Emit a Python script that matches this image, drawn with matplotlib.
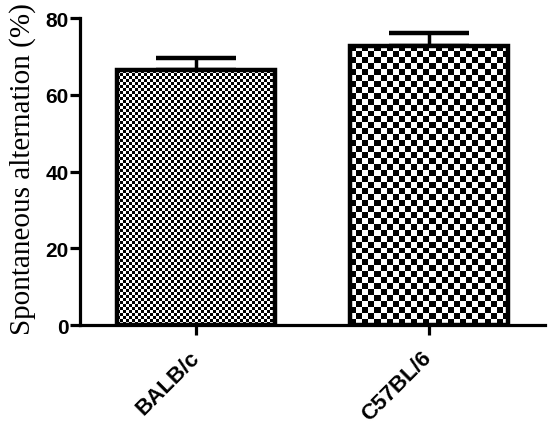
import numpy as np
import matplotlib.pyplot as plt

strains = ["BALB/c", "C57BL/6"]
alternation = [66.4, 72.8]
sem = [3.3, 3.2]
checker_cells = [(53, 85), (26, 47)]  # checks across, checks up

fig = plt.figure(figsize=(5.5, 4.27), dpi=100)
ax = fig.add_axes([0.145, 0.2365, 0.846, 0.719])

x = np.arange(len(strains))
bars = ax.bar(x, alternation, width=0.68, facecolor="none", edgecolor="black",
              linewidth=3.2, zorder=3)

# one-sided error bars (upwards)
ax.errorbar(x, alternation, yerr=[np.zeros(len(sem)), sem], fmt="none",
            ecolor="black", elinewidth=2.5, capsize=29, capthick=3.2, zorder=2)

# checkerboard fills clipped to the bars
for bar, (nx, ny) in zip(bars, checker_cells):
    board = (np.add.outer(np.arange(ny), np.arange(nx)) % 2).astype(float)
    x0, y0 = bar.get_x(), bar.get_y()
    im = ax.imshow(board, cmap="gray", interpolation="nearest", aspect="auto",
                   extent=[x0, x0 + bar.get_width(), y0, y0 + bar.get_height()],
                   zorder=2.5)
    im.set_clip_path(bar)

ax.set_xlim(-0.5, 1.5)
ax.set_ylim(0, 80)
ax.set_yticks([0, 20, 40, 60, 80])
ax.set_xticks(x)
ax.set_xticklabels(strains, rotation=45, ha="right", va="center",
                   rotation_mode="anchor", fontsize=16, fontweight="bold",
                   family="Liberation Sans")
for lab in ax.get_yticklabels():
    lab.set_fontsize(15)
    lab.set_fontweight("bold")
    lab.set_family("Liberation Sans")

for s in ["top", "right"]:
    ax.spines[s].set_visible(False)
for s in ["left", "bottom"]:
    ax.spines[s].set_linewidth(2.3)
ax.tick_params(axis="y", width=2.3, length=7, direction="out", pad=1)
ax.tick_params(axis="x", width=2.3, length=7, direction="out", pad=14)

ax.set_ylabel("Spontaneous alternation (%)", family="Liberation Serif",
              fontsize=21)
ax.yaxis.set_label_coords(-0.095, 0.51)

fig.savefig("out.png", dpi=100)
